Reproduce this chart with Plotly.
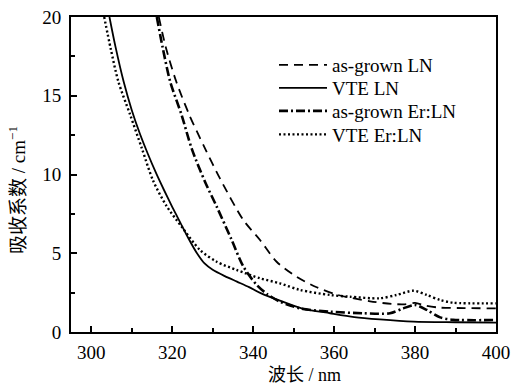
import plotly.graph_objects as go

# as-grown LN (dashed)
x_ag_ln = [316.7, 318.5, 321.0, 324.2, 328.1, 331.8, 337.6, 341.7, 345.8, 350.7, 355.7, 361.0, 368.9, 374.2, 377.5, 380.0, 382.5, 386.0, 392.0, 400.0]
y_ag_ln = [20.0, 18.0, 15.9, 13.8, 11.66, 9.75, 7.1, 5.84, 4.46, 3.51, 2.84, 2.35, 1.95, 1.78, 1.76, 1.85, 1.68, 1.55, 1.52, 1.5]

# VTE LN (solid)
x_vte_ln = [304.5, 306.0, 308.0, 310.0, 312.0, 314.0, 316.0, 318.0, 320.0, 322.0, 324.0, 326.0, 328.0, 330.0, 333.0, 336.0, 339.0, 342.0, 346.6, 352.0, 359.0, 365.0, 371.3, 379.6, 390.0, 400.0]
y_vte_ln = [20.0, 18.1, 15.9, 14.1, 12.6, 11.3, 10.1, 9.0, 7.95, 6.95, 5.95, 5.05, 4.35, 3.95, 3.55, 3.2, 2.85, 2.45, 1.99, 1.5, 1.19, 0.95, 0.8, 0.66, 0.62, 0.6]

# as-grown Er:LN (dash-dot)
x_ag_er = [316.2, 317.7, 319.5, 322.3, 324.8, 328.1, 331.0, 334.7, 337.6, 340.9, 343.5, 346.6, 351.6, 359.0, 367.2, 373.8, 377.1, 380.0, 382.9, 386.2, 389.4, 400.0]
y_ag_er = [20.0, 18.0, 15.9, 13.8, 11.66, 9.54, 7.96, 5.84, 4.15, 2.98, 2.4, 1.93, 1.5, 1.29, 1.19, 1.19, 1.5, 1.71, 1.4, 0.93, 0.78, 0.76]

# VTE Er:LN (dotted)
x_vte_er = [303.2, 304.8, 306.7, 309.6, 312.5, 315.3, 318.6, 322.3, 326.9, 331.0, 335.9, 341.7, 346.6, 351.6, 359.0, 363.9, 371.3, 375.4, 379.6, 382.9, 386.2, 389.4, 400.0]
y_vte_er = [20.0, 18.0, 15.9, 13.8, 11.66, 9.6, 8.0, 6.7, 5.2, 4.46, 3.94, 3.41, 3.09, 2.67, 2.35, 2.24, 2.14, 2.35, 2.62, 2.35, 2.03, 1.86, 1.82]

names = ["as-grown LN", "VTE LN", "as-grown Er:LN", "VTE Er:LN"]

x_ticks = [300, 320, 340, 360, 380, 400]
y_ticks = [0, 5, 10, 15, 20]

serif = "Liberation Serif, Noto Sans CJK SC, serif"
cjk = "Liberation Serif, Noto Sans CJK SC, serif"

fig = go.Figure()
fig.add_trace(go.Scatter(x=x_ag_ln, y=y_ag_ln, mode="lines", name=names[0], legend="legend",
                         line=dict(color="black", width=1.8, dash="9px,6px", shape="spline", smoothing=0.8)))
fig.add_trace(go.Scatter(x=x_vte_ln, y=y_vte_ln, mode="lines", name=names[1], legend="legend2",
                         line=dict(color="black", width=1.8, shape="spline", smoothing=0.8)))
fig.add_trace(go.Scatter(x=x_ag_er, y=y_ag_er, mode="lines", name=names[2], legend="legend3",
                         line=dict(color="black", width=2.6, dash="9px,3px,2px,3px", shape="spline", smoothing=0.8)))
fig.add_trace(go.Scatter(x=x_vte_er, y=y_vte_er, mode="lines", name=names[3], legend="legend4",
                         line=dict(color="black", width=2.4, dash="2px,2.5px", shape="spline", smoothing=0.8)))

axis_common = dict(
    showline=True, linecolor="black", linewidth=2, mirror=True,
    ticks="inside", ticklen=6, tickwidth=1.5, tickcolor="black",
    showgrid=False, zeroline=False, automargin=False,
    tickfont=dict(family=serif, size=19, color="black"),
)

fig.update_xaxes(range=[295, 400], tickvals=x_ticks, ticktext=[str(v) for v in x_ticks],
                 minor=dict(dtick=10, tick0=300, ticks="inside", ticklen=4, tickwidth=1.5, tickcolor="black"),
                 ticklabelstandoff=2,
                 **axis_common)
fig.update_yaxes(range=[0, 20], tickvals=y_ticks, ticktext=[str(v) for v in y_ticks],
                 minor=dict(dtick=2.5, tick0=0, ticks="inside", ticklen=4, tickwidth=1.5, tickcolor="black"),
                 ticklabelstandoff=4,
                 **axis_common)

# axis titles as annotations
fig.add_annotation(text="波长 / nm", xref="paper", yref="paper", x=(304 - 71) / 425, y=-(375 - 332) / 315,
                   xanchor="center", yanchor="middle", showarrow=False,
                   font=dict(family=cjk, size=18, color="black"))
fig.add_annotation(text="吸收系数 / cm<sup>−1</sup>", xref="paper", yref="paper", x=-(71 - 17) / 425,
                   y=1 - (190 - 17) / 315, textangle=-90,
                   xanchor="center", yanchor="middle", showarrow=False,
                   font=dict(family=cjk, size=19, color="black"))

leg_common = dict(xanchor="left", yanchor="middle", bgcolor="rgba(0,0,0,0)", borderwidth=0,
                  font=dict(family=serif, size=19, color="black"), itemwidth=48, x=(274 - 71) / 425)
leg_y = [65, 88, 111, 134.5]
fig.update_layout(
    width=513, height=384,
    margin=dict(l=71, r=17, t=17, b=52),
    paper_bgcolor="white", plot_bgcolor="white",
    showlegend=True,
    legend=dict(y=1 - (leg_y[0] - 17) / 315, **leg_common),
    legend2=dict(y=1 - (leg_y[1] - 17) / 315, **leg_common),
    legend3=dict(y=1 - (leg_y[2] - 17) / 315, **leg_common),
    legend4=dict(y=1 - (leg_y[3] - 17) / 315, **leg_common),
)

fig.write_html("out.html", config={"displayModeBar": False},
               post_script="document.body.style.margin='0';document.body.style.overflow='hidden';")
